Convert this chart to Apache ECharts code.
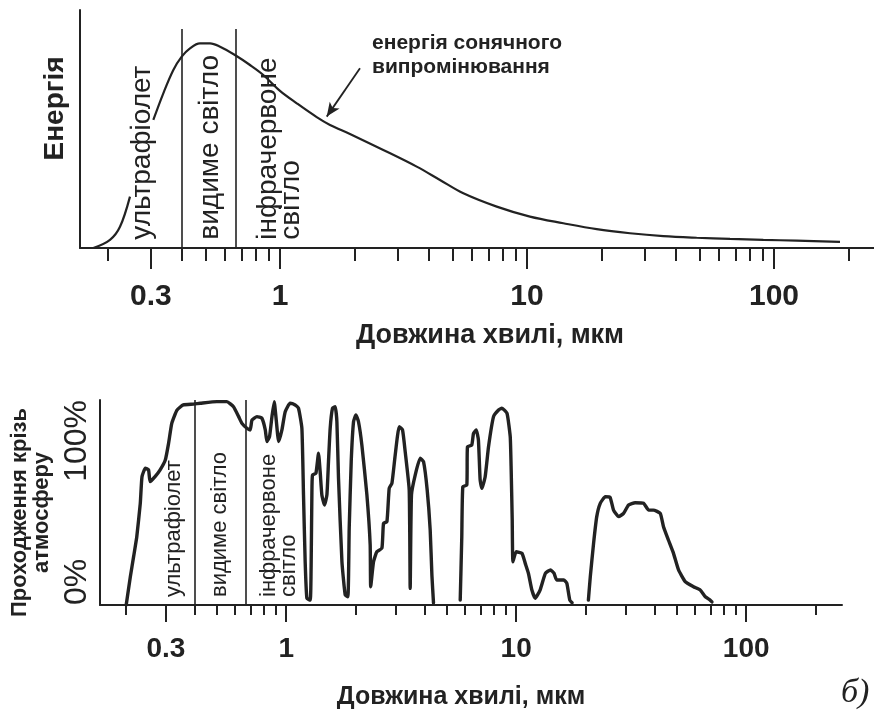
<!DOCTYPE html>
<html>
<head>
<meta charset="utf-8">
<script src="https://cdn.jsdelivr.net/npm/echarts@6/dist/echarts.min.js"></script>
<style>
html,body{margin:0;padding:0;background:#ffffff;}
#chart{width:874px;height:717px;}
</style>
</head>
<body>
<div id="chart"></div>
<script>
// ---- data ----
// top panel: solar radiation energy (arbitrary units, 0..100) vs wavelength (µm); null = gap where label crosses
const sunWavelength = [0.1755, 0.205, 0.225, 0.247, 0.27, 0.307, 0.337, 0.370, 0.400, 0.432, 0.474, 0.521, 0.572, 0.657, 0.756, 0.856, 1.0, 1.169, 1.408, 1.594, 1.92, 2.619, 3.576, 4.443, 5.524, 7.541, 10.28, 14.03, 19.15, 26.12, 35.63, 48.64, 66.35, 90.5, 123.6, 185];
const sunEnergy = [0, 3.4, 8.9, 21.6, null, 53.8, 65, 74.8, 80.4, 83.9, 86, 86, 84.6, 81.1, 76.9, 72.7, 66, 60.8, 55, 51.7, 47.9, 41.2, 34.2, 28.6, 23, 17.4, 13.2, 10.4, 7.9, 6.2, 5.0, 4.3, 3.8, 3.4, 3.1, 2.6];

// bottom panel: transmission through the atmosphere (%) vs wavelength (µm); null = no transmission window
const atmWavelength = [0.2015, 0.21, 0.217, 0.224, 0.232, 0.236, 0.244, 0.252, 0.256, 0.269, 0.283, 0.298, 0.308, 0.318, 0.335, 0.357, 0.395, 0.423, 0.5, 0.552, 0.59, 0.621, 0.642, 0.675, 0.697, 0.71, 0.746, 0.784, 0.811, 0.824, 0.846, 0.867, 0.887, 0.905, 0.927, 0.958, 0.99, 1.04, 1.094, 1.131, 1.17, 1.189, 1.209, 1.23, 1.272, 1.284, 1.293, 1.301, 1.346, 1.382, 1.405, 1.429, 1.467, 1.503, 1.527, 1.553, 1.59, 1.633, 1.661, 1.688, 1.747, 1.805, 1.855, 1.879, 1.917, 1.962, 2.009, 2.062, 2.133, 2.243, 2.318, 2.33, 2.397, 2.479, 2.607, 2.649, 2.741, 2.804, 2.882, 2.978, 3.1, 3.204, 3.291, 3.426, 3.46, 3.505, 3.638, 3.824, 3.954, 4.102, 4.227, 4.3, 4.369, 5.0, 5.71, 5.8, 5.86, 6.1, 6.14, 6.41, 6.52, 6.7, 6.85, 6.97, 7.09, 7.33, 7.58, 7.97, 8.38, 8.67, 9.12, 9.42, 9.51, 9.61, 9.68, 10.0, 10.6, 10.95, 11.3, 11.7, 12.1, 12.7, 13.4, 14.1, 14.6, 15.0, 16.1, 16.6, 17.1, 17.5, 19, 20.6, 21, 21.7, 22.4, 23.2, 24.4, 25.6, 26.5, 27.9, 29.3, 30.8, 32.9, 35.8, 37.7, 39.5, 42.3, 43.7, 45.9, 48.3, 50.8, 54.3, 59, 63.1, 66.4, 69.7, 71];
const atmTransmission = [0, 13.8, 23.6, 33.3, 49.6, 62.6, 66.7, 65.9, 60.2, 62.6, 65.9, 70.7, 78.9, 88.6, 95.1, 97.6, 98, 98.4, 99.2, 99.2, 96.7, 91.9, 88.6, 86.2, 85.4, 90.2, 91.9, 91.1, 85.4, 79.7, 82.1, 91.9, 99.2, 90.2, 79.7, 85.4, 94.3, 98.4, 97.6, 96, 86.2, 53.7, 21.1, 3.3, 2.4, 21.1, 53.7, 63.4, 64.2, 74, 65, 53.7, 48.8, 53.7, 69.9, 86.2, 96, 96.7, 89.4, 61.8, 21.1, 4.9, 4, 37.4, 69.9, 89.4, 92.7, 89.4, 78, 53.7, 29.3, 8.9, 21.1, 26, 27.7, 39.9, 40.6, 56.9, 59.4, 73.2, 87, 85.4, 74.8, 56.1, 8.1, 53.7, 63.4, 71.6, 69.9, 56.1, 36.6, 14.6, 1, null, 2.4, 33.3, 57.7, 58.5, 77.2, 78, 83.7, 85.4, 80.5, 61, 56.9, 62.6, 77.2, 91.9, 95.1, 96, 93.5, 82.1, 65.9, 41.5, 21.1, 26, 25.2, 20.3, 15.5, 7.3, 3.3, 7.3, 15.5, 17.1, 15.5, 12.2, 12.2, 10.6, 2.4, 1.1, null, 2.4, 13.8, 30.1, 43.1, 49.6, 52.8, 52.5, 46.3, 43.1, 44.7, 48.8, 49.9, 49.6, 46.3, 46.3, 44.7, 38.2, 31.7, 25.2, 17.1, 11.4, 8.9, 7.3, 4, 2.4, 1.5];

// axis ticks and labels
const minorTickValues = [0.2, 0.3, 0.4, 0.5, 0.6, 0.7, 0.8, 0.9, 2, 3, 4, 5, 6, 7, 8, 9, 20, 30, 40, 50, 60, 70, 80, 90, 200];
const majorTickValues = [0.3, 1, 10, 100];
const majorTickLabels = ['0.3', '1', '10', '100'];
const yTickValues = [0, 100];
const yTickLabels = ['0%', '100%'];

// spectral band boundaries (µm) and band names
const bandEdges = [0.4, 0.665];
const bandNames = ['ультрафіолет', 'видиме світло', 'інфрачервоне\nсвітло'];
const curveName = 'енергія сонячного\nвипромінювання';
const xTitle = 'Довжина хвилі, мкм';
const yTitleTop = 'Енергія';
const yTitleBottom = 'Проходження крізь\nатмосферу';
const panelMark = 'б)';

// ---- chart ----
const ink = '#222222';
const FONT = '"Liberation Sans", Arial, Helvetica, sans-serif';

function pairs(xs, ys) {
  return xs.map((x, i) => [x, ys[i] == null ? '-' : ys[i]]);
}
function majorLabel(v) {
  const i = majorTickValues.findIndex(t => Math.abs(t - v) / t < 1e-6);
  return i >= 0 ? majorTickLabels[i] : '';
}
function yLabel(v) {
  const i = yTickValues.indexOf(Math.round(v));
  return i >= 0 ? yTickLabels[i] : '';
}

const chart = echarts.init(document.getElementById('chart'), null, {renderer: 'canvas'});

const xMinorAxis = (grid, max, len) => ({
  gridIndex: grid, type: 'log', logBase: 10, min: 0.155, max: max, position: 'bottom',
  axisLine: {show: true, onZero: false, lineStyle: {color: ink, width: 2}},
  axisTick: {show: true, customValues: minorTickValues, length: len, lineStyle: {color: ink, width: 2}},
  axisLabel: {show: false}, splitLine: {show: false}, minorTick: {show: false}
});
const xMajorAxis = (grid, max, len, fs, margin, nameFs, nameGap, pad) => ({
  gridIndex: grid, type: 'log', logBase: 10, min: 0.155, max: max, position: 'bottom',
  axisLine: {show: false, onZero: false},
  axisTick: {show: true, customValues: majorTickValues, length: len, lineStyle: {color: ink, width: 2}},
  axisLabel: {show: true, customValues: majorTickValues, formatter: majorLabel, fontSize: fs, fontWeight: 'bold', color: ink, margin: margin, fontFamily: FONT},
  splitLine: {show: false}, minorTick: {show: false},
  name: xTitle, nameLocation: 'middle', nameGap: nameGap,
  nameTextStyle: {fontSize: nameFs, fontWeight: 'bold', color: ink, fontFamily: FONT, padding: pad}
});

const labelCarrier = {symbolSize: 1, itemStyle: {color: 'rgba(0,0,0,0)', opacity: 1}, silent: true, emphasis: {disabled: true}};

const option = {
  animation: false,
  backgroundColor: '#ffffff',
  textStyle: {fontFamily: FONT, color: ink},
  grid: [
    {left: 80, top: 10, width: 794, height: 238, containLabel: false},
    {left: 100, top: 400, width: 742, height: 205, containLabel: false}
  ],
  xAxis: [
    xMinorAxis(0, 254, 13),
    xMajorAxis(0, 254, 21, 30, 34, 27, 74, [0, 0, 0, 26]),
    xMinorAxis(1, 261, 10),
    xMajorAxis(1, 261, 17, 28, 30, 25, 80, [0, 20, 0, 0])
  ],
  yAxis: [
    {
      gridIndex: 0, type: 'value', min: 0, max: 100, position: 'left',
      axisLine: {show: true, onZero: false, lineStyle: {color: ink, width: 2}},
      axisTick: {show: false}, axisLabel: {show: false}, splitLine: {show: false},
      name: yTitleTop, nameLocation: 'middle', nameRotate: 90, nameGap: 11,
      nameTextStyle: {fontSize: 28, fontWeight: 'bold', color: ink, fontFamily: FONT, padding: [0, 0, 0, 41]}
    },
    {
      gridIndex: 1, type: 'value', min: 0, max: 100, position: 'left',
      axisLine: {show: true, onZero: false, lineStyle: {color: ink, width: 2}},
      axisTick: {show: false}, splitLine: {show: false},
      axisLabel: {show: true, customValues: [yTickValues[0]], formatter: yLabel, rotate: 90, align: 'left', verticalAlign: 'middle', margin: 23, fontSize: 32, color: ink, fontFamily: FONT},
      name: yTitleBottom, nameLocation: 'middle', nameRotate: 90, nameGap: 44,
      nameTextStyle: {fontSize: 22, fontWeight: 'bold', lineHeight: 22, color: ink, fontFamily: FONT, padding: [0, 20, 0, 0]}
    },
    {
      gridIndex: 1, type: 'value', min: 0, max: 100, position: 'left',
      axisLine: {show: false, onZero: false},
      axisTick: {show: false}, splitLine: {show: false},
      axisLabel: {show: true, customValues: [yTickValues[1]], formatter: yLabel, rotate: 90, align: 'right', verticalAlign: 'middle', margin: 23, fontSize: 32, color: ink, fontFamily: FONT}
    }
  ],
  series: [
    {
      name: 'sun', type: 'line', xAxisIndex: 0, yAxisIndex: 0, silent: true,
      data: pairs(sunWavelength, sunEnergy), smooth: 0.35, showSymbol: false, connectNulls: false,
      lineStyle: {color: ink, width: 2.2},
      markLine: {
        silent: true, symbol: ['none', 'none'], label: {show: false},
        lineStyle: {color: ink, width: 1.6, type: 'solid'},
        emphasis: {disabled: true},
        data: [
          [{coord: [bandEdges[0], 0]}, {coord: [bandEdges[0], 92]}],
          [{coord: [bandEdges[1], 0]}, {coord: [bandEdges[1], 92]}],
          [{coord: [2.108, 75.5], symbol: 'none'}, {coord: [1.546, 55.2], symbol: 'arrow', symbolSize: [9, 14], lineStyle: {width: 1.8}}]
        ]
      }
    },
    {
      name: 'atm', type: 'line', xAxisIndex: 2, yAxisIndex: 1, silent: true,
      data: pairs(atmWavelength, atmTransmission), smooth: 0.15, showSymbol: false, connectNulls: false,
      lineStyle: {color: ink, width: 3.4, join: 'round', cap: 'round'},
      markLine: {
        silent: true, symbol: ['none', 'none'], label: {show: false},
        lineStyle: {color: ink, width: 1.6, type: 'solid'},
        emphasis: {disabled: true},
        data: [
          [{coord: [bandEdges[0], 0]}, {coord: [bandEdges[0], 100]}],
          [{coord: [bandEdges[1], 0]}, {coord: [bandEdges[1], 100]}]
        ]
      }
    },
    Object.assign({
      name: 'topBands', type: 'scatter', xAxisIndex: 0, yAxisIndex: 0,
      data: [
        {name: bandNames[0], value: [0.2775, 3.5]},
        {name: bandNames[1], value: [0.521, 3.5]},
        {name: bandNames[2], value: [1.0, 3.5]}
      ],
      label: {show: true, formatter: '{b}', position: 'inside', rotate: 90, align: 'left', verticalAlign: 'middle',
        fontSize: 28, lineHeight: 23, color: ink, fontFamily: FONT, opacity: 1}
    }, labelCarrier),
    Object.assign({
      name: 'curveLabel', type: 'scatter', xAxisIndex: 0, yAxisIndex: 0,
      data: [{name: curveName, value: [2.358, 81.1]}],
      label: {show: true, formatter: '{b}', position: 'inside', align: 'left', verticalAlign: 'middle',
        fontSize: 21, fontWeight: 'bold', lineHeight: 24, color: ink, fontFamily: FONT, opacity: 1}
    }, labelCarrier),
    Object.assign({
      name: 'bottomBands', type: 'scatter', xAxisIndex: 2, yAxisIndex: 1,
      data: [
        {name: bandNames[0], value: [0.3236, 3.9]},
        {name: bandNames[1], value: [0.5164, 3.9]},
        {name: bandNames[2], value: [0.926, 3.9]}
      ],
      label: {show: true, formatter: '{b}', position: 'inside', rotate: 90, align: 'left', verticalAlign: 'middle',
        fontSize: 22, lineHeight: 20, color: ink, fontFamily: FONT, opacity: 1}
    }, labelCarrier)
  ],
  graphic: [
    {type: 'text', left: 841, top: 676, silent: true,
     style: {text: panelMark, fill: ink, font: 'italic 34px "Liberation Serif", "DejaVu Serif", serif'}}
  ]
};

chart.setOption(option);
</script>
</body>
</html>
